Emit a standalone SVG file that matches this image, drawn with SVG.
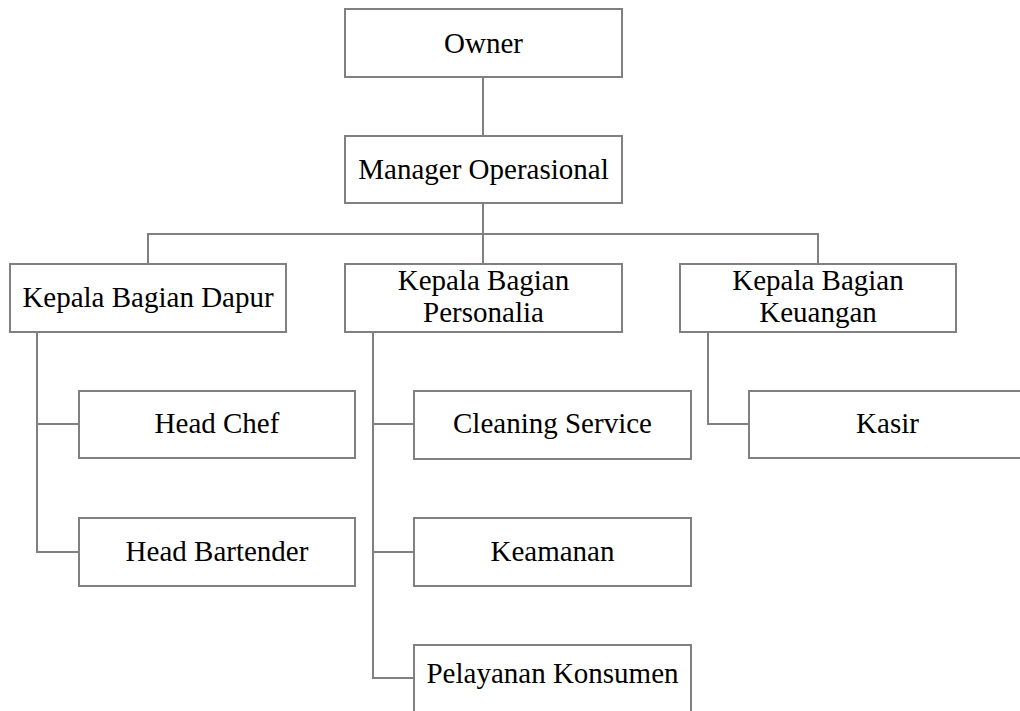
<svg xmlns="http://www.w3.org/2000/svg" width="1020" height="711" viewBox="0 0 1020 711">
<style>
.box{fill:#fff;stroke:#808080;stroke-width:2}
.ln{fill:none;stroke:#808080;stroke-width:2}
.t{font-size:29px;fill:#000;text-anchor:middle}
</style>
<rect width="1020" height="711" fill="#fff"/>
<g id="connectors">
<path class="ln" d="M483,77 V136"/>
<path class="ln" d="M483,203 V264 M148,264 V234 H818 V264"/>
<path class="ln" d="M37,332 V552 H79 M37,424 H79"/>
<path class="ln" d="M373,332 V678 H414 M373,424 H414 M373,552 H414"/>
<path class="ln" d="M708,332 V424 H749"/>
</g>
<g class="t" font-family="'Liberation Serif', 'Times New Roman', Tinos, serif">
<g id="owner"><rect class="box" x="345" y="9" width="277" height="68"/><text x="483.5" y="53">Owner</text></g>
<g id="manager"><rect class="box" x="345" y="136" width="277" height="67"/><text x="483.5" y="178.5">Manager Operasional</text></g>
<g id="kb-dapur"><rect class="box" x="10" y="264" width="276" height="68"/><text x="148" y="307">Kepala Bagian Dapur</text></g>
<g id="kb-personalia"><rect class="box" x="345" y="264" width="277" height="68"/><text x="483.5" y="290">Kepala Bagian</text><text x="483.5" y="322">Personalia</text></g>
<g id="kb-keuangan"><rect class="box" x="680" y="264" width="276" height="68"/><text x="818" y="290">Kepala Bagian</text><text x="818" y="322">Keuangan</text></g>
<g id="head-chef"><rect class="box" x="79" y="391" width="276" height="67"/><text x="217" y="433">Head Chef</text></g>
<g id="head-bartender"><rect class="box" x="79" y="518" width="276" height="68"/><text x="217" y="560.5">Head Bartender</text></g>
<g id="cleaning"><rect class="box" x="414" y="391" width="277" height="68"/><text x="552.5" y="433">Cleaning Service</text></g>
<g id="keamanan"><rect class="box" x="414" y="518" width="277" height="68"/><text x="552.5" y="561">Keamanan</text></g>
<g id="pelayanan"><rect class="box" x="414" y="645" width="277" height="68"/><text x="552.5" y="683">Pelayanan Konsumen</text></g>
<g id="kasir"><rect class="box" x="749" y="391" width="277" height="67"/><text x="887.5" y="433">Kasir</text></g>
</g>
</svg>
